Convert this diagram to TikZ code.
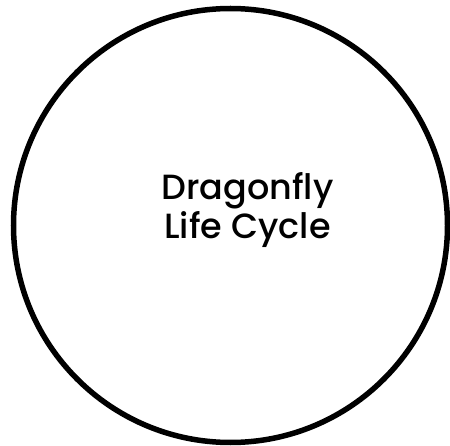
\documentclass[tikz,border=0pt]{standalone}
\usepackage{fontspec}
\setmainfont{Poppins}[UprightFont=* Medium]
\begin{document}
\begin{tikzpicture}[x=1pt, y=1pt,
  cyclering/.style={circle, draw=black, line width=5.5pt, minimum size=434pt, inner sep=0pt},
  cycletitle/.style={align=center, font=\fontsize{35}{39}\selectfont}
]
\useasboundingbox (0,0) rectangle (450,445);
\clip (0,0) rectangle (450,445);
\node[cyclering] (ring) at (230.5,219.5) {};
\node[cycletitle] (title) at (247.5,235) {Dragonfly\\Life Cycle};
\end{tikzpicture}
\end{document}
